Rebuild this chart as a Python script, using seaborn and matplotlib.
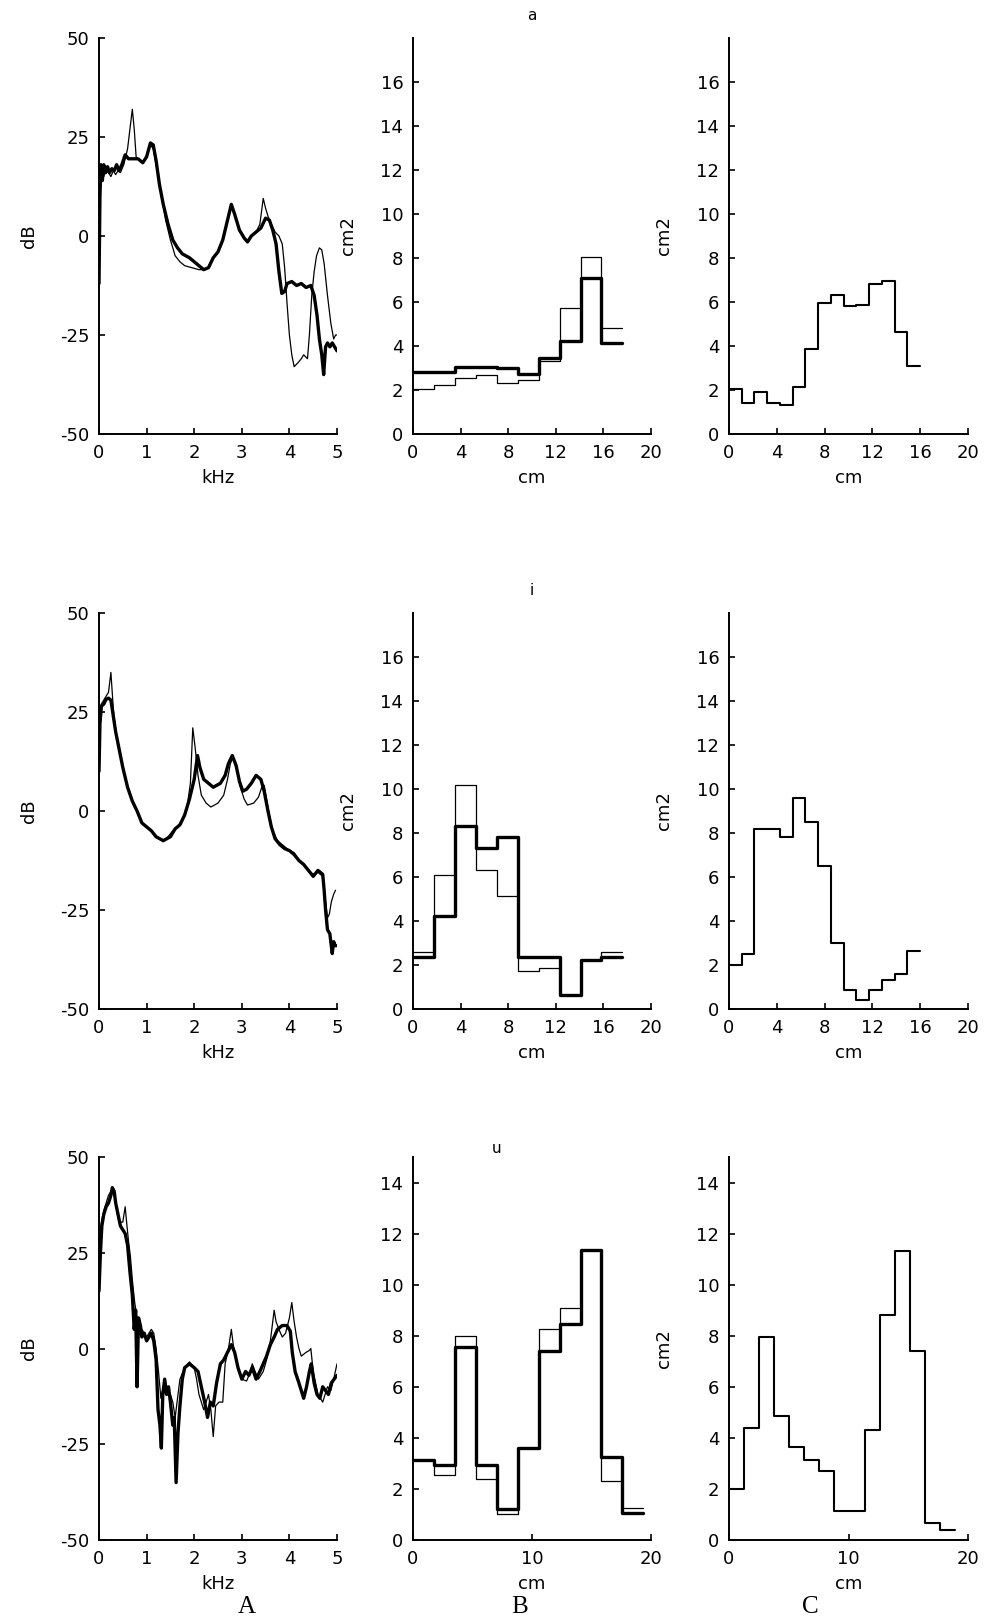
import numpy as np
import pandas as pd
import matplotlib
matplotlib.use("Agg")
import matplotlib.pyplot as plt
import seaborn as sns

# ---------------- data ----------------
# Row "a" spectra (kHz, dB)
f_a_thick = [0.00,0.02,0.04,0.07,0.10,0.14,0.18,0.22,0.27,0.32,0.37,0.42,0.48,0.55,0.62,0.72,0.82,0.92,1.00,1.08,1.14,1.20,1.27,1.35,1.45,1.55,1.65,1.75,1.90,2.05,2.20,2.30,2.40,2.50,2.60,2.70,2.78,2.85,2.95,3.05,3.12,3.20,3.30,3.40,3.50,3.58,3.65,3.72,3.78,3.84,3.90,3.95,4.05,4.15,4.25,4.35,4.45,4.52,4.58,4.63,4.68,4.72,4.76,4.80,4.85,4.90,4.95,5.00]
db_a_thick = [-12,10,18,14,18,16,17.5,16,17,16.5,18,16.5,18,20.5,19.5,19.5,19.5,18.5,20,23.5,23,19,13,8,3,-1,-3,-4.5,-5.5,-7,-8.5,-8,-5.5,-4,-1,4,8,5.5,1.5,-0.5,-1.5,0,1,2,4.5,4,1.5,-2,-9,-14.5,-14,-12,-11.5,-12.5,-12,-13,-12.5,-15,-20,-26,-30,-35,-28,-27,-28,-27,-28,-29]
f_a_thin = [0.00,0.02,0.05,0.10,0.15,0.20,0.25,0.30,0.35,0.40,0.45,0.52,0.60,0.66,0.70,0.74,0.78,0.85,0.92,1.00,1.08,1.14,1.20,1.30,1.40,1.50,1.60,1.70,1.80,1.95,2.10,2.20,2.30,2.40,2.50,2.60,2.70,2.78,2.85,2.95,3.05,3.12,3.20,3.30,3.38,3.45,3.50,3.55,3.62,3.70,3.78,3.85,3.90,3.95,4.00,4.05,4.10,4.18,4.25,4.30,4.38,4.42,4.47,4.52,4.57,4.63,4.68,4.73,4.80,4.87,4.93,4.97,5.00]
db_a_thin = [-5,14,17,15,17,16,15,16.5,15.5,16.5,16,18,22,28,32,27,20,19,18.5,20,23,22,18,11,4,-1,-5,-6.5,-7.5,-8,-8.5,-8.5,-8,-5.5,-4,-1,4,8,5.5,1.5,-0.5,-1.5,0,1,3,9.5,7,5,3,1,0,-2,-8,-17,-25,-30,-33,-32,-31,-30,-31,-25,-15,-9,-5,-3,-3.5,-7,-15,-22,-26,-25,-25]

# Row "i" spectra
f_i_thick = [0.00,0.02,0.05,0.10,0.15,0.20,0.25,0.30,0.35,0.40,0.45,0.50,0.60,0.70,0.80,0.90,1.00,1.10,1.20,1.35,1.50,1.60,1.70,1.80,1.90,2.00,2.07,2.12,2.20,2.30,2.40,2.55,2.65,2.72,2.80,2.88,2.95,3.02,3.10,3.20,3.30,3.40,3.47,3.55,3.62,3.70,3.80,3.90,4.00,4.10,4.20,4.30,4.40,4.50,4.60,4.70,4.73,4.76,4.80,4.85,4.88,4.90,4.93,4.96,5.00]
db_i_thick = [10,22,26.5,27,28.2,28.5,28,24,20,17,14,11,6,2.5,0,-3,-4,-5,-6.5,-7.5,-6.5,-4.5,-3.5,-1,3,8,14,11,8,7,6,7,9,12,14,11.5,7.5,5,5.5,7,9,8,5,0,-4,-7,-8.5,-9.5,-10,-11,-12.5,-13.5,-15,-16.5,-15,-16,-20,-25,-30,-31,-34,-36,-33,-34,-34]
f_i_thin = [0.00,0.05,0.10,0.15,0.20,0.25,0.30,0.35,0.40,0.45,0.50,0.60,0.70,0.80,0.90,1.00,1.10,1.20,1.35,1.45,1.55,1.65,1.75,1.85,1.92,1.97,2.02,2.08,2.15,2.25,2.35,2.50,2.62,2.70,2.76,2.82,2.90,2.97,3.05,3.12,3.25,3.35,3.42,3.47,3.52,3.58,3.65,3.75,3.85,4.00,4.10,4.20,4.30,4.40,4.50,4.60,4.70,4.75,4.80,4.84,4.88,4.93,4.97]
db_i_thin = [25,27,28,29,30,35,26,20,17,14,11,6,2.5,0,-3,-4,-5,-6.5,-7.5,-6.5,-5,-4,-2.5,1,7,21,16,9,4,2,1,2,4,8,12,13.5,10,6,3,1.5,2,3.5,6,6.5,3,-1,-5,-7.5,-8.5,-10,-10.5,-12.5,-13.5,-15,-16,-15.5,-16.5,-22,-27,-26,-23,-21,-20]

# Row "u" spectra
f_u_thick = [0.00,0.03,0.06,0.10,0.15,0.20,0.25,0.28,0.32,0.35,0.40,0.45,0.50,0.55,0.60,0.65,0.70,0.74,0.77,0.80,0.83,0.87,0.90,0.95,1.00,1.05,1.10,1.15,1.20,1.24,1.28,1.31,1.34,1.38,1.42,1.46,1.50,1.55,1.58,1.62,1.66,1.70,1.75,1.80,1.90,2.00,2.08,2.15,2.22,2.28,2.34,2.40,2.47,2.55,2.62,2.70,2.78,2.85,2.92,3.00,3.08,3.15,3.22,3.30,3.38,3.45,3.52,3.60,3.68,3.75,3.85,3.95,4.02,4.06,4.12,4.20,4.25,4.30,4.36,4.42,4.46,4.52,4.58,4.64,4.70,4.76,4.82,4.88,4.94,5.00]
db_u_thick = [15,25,32,35,37,38,40,42,41,38,35,32,31,30,27,20,14,5,10,-10,8,6,3,4,2,3,4,2,-3,-16,-20,-26,-12,-8,-12,-10,-14,-20,-18,-35,-22,-15,-8,-5,-4,-5,-6,-10,-14,-18,-14,-15,-9,-4,-3,-1,1,-1,-5,-8,-6,-7,-5,-8,-6,-4,-2,1,3,5,6,6,4.5,-1,-6,-9,-11,-13,-10,-6,-4,-9,-12,-13,-10,-11,-12,-9,-8,-7]
f_u_thin = [0.00,0.05,0.10,0.15,0.20,0.25,0.30,0.35,0.40,0.45,0.50,0.55,0.58,0.62,0.66,0.70,0.75,0.80,0.85,0.90,1.00,1.05,1.10,1.15,1.20,1.25,1.30,1.35,1.40,1.45,1.50,1.55,1.60,1.65,1.70,1.80,1.90,2.00,2.05,2.10,2.20,2.25,2.30,2.35,2.40,2.45,2.52,2.60,2.65,2.72,2.78,2.82,2.88,2.95,3.00,3.10,3.15,3.22,3.28,3.35,3.45,3.52,3.60,3.68,3.72,3.78,3.85,3.92,4.00,4.05,4.10,4.15,4.20,4.25,4.35,4.42,4.45,4.50,4.55,4.60,4.65,4.70,4.75,4.80,4.87,4.93,5.00]
db_u_thin = [28,33,36,38,40,41,42,38,34,33,33,37,33,28,24,18,12,8,6,5,3,4,5,4,0,-6,-13,-10,-9,-11,-12,-14,-18,-13,-8,-5,-3.5,-5,-8,-12,-16,-14,-12,-16,-23,-15,-14,-14,-4,0,5,1,-3,-6,-8,-8.5,-7,-4,-6,-8,-6,-3,2,10,7,5,3,4,8,12,7,3,0,-2,-1,-0.5,0,-6,-9,-12,-13,-14,-12,-10,-11,-8,-4]

# Column B area functions (cm, cm2), two curves
cm_B_ai = [0, 1.76, 3.52, 5.28, 7.04, 8.80, 10.56, 12.32, 14.08, 15.84, 17.60]
area_a_B_thick = [2.8, 2.8, 3.05, 3.05, 3.0, 2.75, 3.45, 4.25, 7.1, 4.15]
area_a_B_thin = [2.05, 2.25, 2.55, 2.7, 2.3, 2.45, 3.3, 5.75, 8.05, 4.8]
area_i_B_thick = [2.35, 4.25, 8.3, 7.3, 7.8, 2.35, 2.35, 0.65, 2.25, 2.35]
area_i_B_thin = [2.6, 6.1, 10.2, 6.3, 5.15, 1.75, 1.85, 0.65, 2.25, 2.6]
cm_B_u = [0, 1.76, 3.52, 5.28, 7.04, 8.80, 10.56, 12.32, 14.08, 15.84, 17.60, 19.36]
area_u_B_thick = [3.15, 2.95, 7.55, 2.95, 1.2, 3.6, 7.4, 8.45, 11.35, 3.25, 1.05]
area_u_B_thin = [3.15, 2.55, 8.0, 2.4, 1.0, 3.6, 8.25, 9.1, 11.35, 2.3, 1.25]

# Column C area functions
cm_C_ai = [0, 1.067, 2.133, 3.2, 4.267, 5.333, 6.4, 7.467, 8.533, 9.6, 10.667, 11.733, 12.8, 13.867, 14.933, 16.0]
area_a_C = [2.05, 1.4, 1.9, 1.4, 1.33, 2.15, 3.85, 5.95, 6.3, 5.8, 5.85, 6.8, 6.95, 4.65, 3.1]
area_i_C = [2.0, 2.5, 8.2, 8.2, 7.8, 9.6, 8.5, 6.5, 3.0, 0.85, 0.4, 0.85, 1.3, 1.6, 2.65]
cm_C_u = [0, 1.26, 2.52, 3.78, 5.04, 6.30, 7.56, 8.82, 10.08, 11.34, 12.60, 13.86, 15.12, 16.38, 17.64, 18.90]
area_u_C = [2.0, 4.4, 7.95, 4.85, 3.65, 3.15, 2.7, 1.15, 1.15, 4.3, 8.8, 11.3, 7.4, 0.65, 0.4]

row_titles = ["a", "i", "u"]
col_letters = ["A", "B", "C"]
db_ticks = [-50, -25, 0, 25, 50]
khz_ticks = [0, 1, 2, 3, 4, 5]
cm_ticks_ai = [0, 4, 8, 12, 16, 20]
cm_ticks_u = [0, 10, 20]
area_ticks_ai = [0, 2, 4, 6, 8, 10, 12, 14, 16]
area_ticks_u = [0, 2, 4, 6, 8, 10, 12, 14]

# ---------------- style ----------------
sns.set_theme(style="ticks")
plt.rcParams.update({
    "font.family": ["DejaVu Sans"],
    "axes.unicode_minus": False,
    "axes.linewidth": 1.4,
    "axes.edgecolor": "black",
    "xtick.direction": "in",
    "ytick.direction": "in",
    "xtick.major.size": 4,
    "ytick.major.size": 4,
    "xtick.major.width": 1.2,
    "ytick.major.width": 1.2,
    "xtick.color": "black",
    "ytick.color": "black",
    "xtick.labelsize": 13,
    "ytick.labelsize": 13,
    "axes.labelsize": 13,
    "text.color": "black",
    "axes.labelcolor": "black",
})

W, H = 984, 1621
fig = plt.figure(figsize=(W / 100, H / 100), dpi=100)

def fx(px):
    return px / W

def fy(py):
    return 1 - py / H

col_lr = [(99, 337), (413, 651), (729, 968)]
row_tb = [(38, 434), (613, 1009), (1157, 1540)]

THICK = 2.4
THIN = 0.9

def make_ax(r, c):
    l, rr = col_lr[c]
    t, b = row_tb[r]
    ax = fig.add_axes([fx(l), fy(b), fx(rr - l), (b - t) / H])
    sns.despine(ax=ax)
    ax.tick_params(axis="both", pad=7)
    return ax

def spectrum(ax, f_thin, d_thin, f_thick, d_thick):
    sns.lineplot(x=f_thin, y=d_thin, ax=ax, color="black", linewidth=THIN,
                 sort=False, estimator=None)
    sns.lineplot(x=f_thick, y=d_thick, ax=ax, color="black", linewidth=THICK,
                 sort=False, estimator=None)
    ax.set_xlim(0, 5)
    ax.set_ylim(-50, 50)
    ax.set_xticks(khz_ticks)
    ax.set_yticks(db_ticks)
    ax.set_xlabel("kHz", labelpad=5)
    ax.set_ylabel("dB", labelpad=16)

def stairs(ax, edges, vals, lw):
    yv = list(vals) + [vals[-1]]
    sns.lineplot(x=edges, y=yv, ax=ax, color="black", linewidth=lw,
                 drawstyle="steps-post", sort=False, estimator=None)

spectra = [
    (f_a_thin, db_a_thin, f_a_thick, db_a_thick),
    (f_i_thin, db_i_thin, f_i_thick, db_i_thick),
    (f_u_thin, db_u_thin, f_u_thick, db_u_thick),
]
B_data = [
    (cm_B_ai, area_a_B_thin, area_a_B_thick),
    (cm_B_ai, area_i_B_thin, area_i_B_thick),
    (cm_B_u, area_u_B_thin, area_u_B_thick),
]
C_data = [
    (cm_C_ai, area_a_C),
    (cm_C_ai, area_i_C),
    (cm_C_u, area_u_C),
]

for r in range(3):
    ax = make_ax(r, 0)
    spectrum(ax, *spectra[r])

    axb = make_ax(r, 1)
    edges, thin, thick = B_data[r]
    stairs(axb, edges, thin, THIN)
    stairs(axb, edges, thick, THICK)
    axb.set_xlim(0, 20)
    axb.set_xlabel("cm", labelpad=5)
    if r < 2:
        axb.set_ylim(0, 18)
        axb.set_yticks(area_ticks_ai)
        axb.set_xticks(cm_ticks_ai)
        axb.set_ylabel("cm2", labelpad=17)
        axb.set_title(row_titles[r], fontsize=11, pad=13)
    else:
        axb.set_ylim(0, 15)
        axb.set_yticks(area_ticks_u)
        axb.set_xticks(cm_ticks_u)
        axb.set_ylabel("")
        axb.set_title(row_titles[r], fontsize=11, pad=3, x=0.35)

    axc = make_ax(r, 2)
    edges, vals = C_data[r]
    stairs(axc, edges, vals, 1.5)
    axc.set_xlim(0, 20)
    axc.set_xlabel("cm", labelpad=5)
    axc.set_ylabel("cm2", labelpad=17)
    if r < 2:
        axc.set_ylim(0, 18)
        axc.set_yticks(area_ticks_ai)
        axc.set_xticks(cm_ticks_ai)
    else:
        axc.set_ylim(0, 15)
        axc.set_yticks(area_ticks_u)
        axc.set_xticks(cm_ticks_u)

for letter, xc in zip(col_letters, [247, 520, 810]):
    fig.text(fx(xc), fy(1607), letter, ha="center", va="center",
             family=["Liberation Serif", "DejaVu Serif"], fontsize=18)

fig.savefig("out.png", dpi=100, facecolor="white")
